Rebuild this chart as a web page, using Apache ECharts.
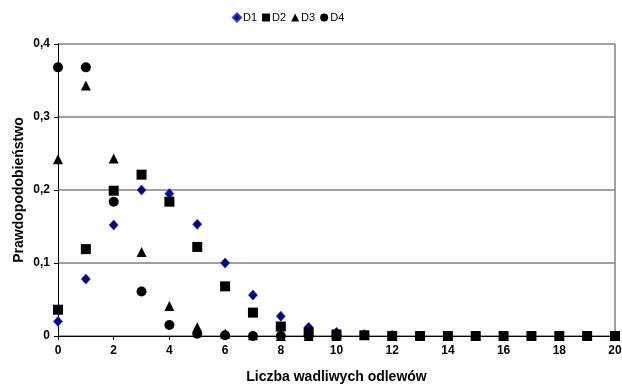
<!DOCTYPE html>
<html>
<head>
<meta charset="utf-8">
<script src="https://cdn.jsdelivr.net/npm/echarts@6/dist/echarts.min.js"></script>
<style>
  html, body { margin: 0; padding: 0; background: #fff; }
  #chart { width: 622px; height: 384px; }
</style>
</head>
<body>
<div id="chart"></div>
<script>
// liczba wadliwych odlewów (oś X)
const xs = [0, 1, 2, 3, 4, 5, 6, 7, 8, 9, 10, 11, 12, 13, 14, 15, 16, 17, 18, 19, 20];

// prawdopodobieństwa
const d1 = [0.020, 0.078, 0.152, 0.200, 0.195, 0.153, 0.100, 0.056, 0.027, 0.012, 0.005, 0.002, 0.001, 0, 0, 0, 0, 0, 0, 0, 0];
const d2 = [0.036, 0.119, 0.199, 0.221, 0.184, 0.122, 0.068, 0.032, 0.013, 0.005, 0.002, 0.001, 0, 0, 0, 0, 0, 0, 0, 0, 0];
const d3 = [0.242, 0.343, 0.243, 0.115, 0.041, 0.012, 0.003, 0.001, 0, 0, 0];
const d4 = [0.368, 0.368, 0.184, 0.061, 0.015, 0.003, 0.001, 0, 0, 0, 0];

const yLabels = ['0', '0,1', '0,2', '0,3', '0,4'];

const pairs = arr => arr.map((v, i) => [xs[i], v]);

const chart = echarts.init(document.getElementById('chart'));

const font = 'Liberation Sans, Arial, sans-serif';

chart.setOption({
  animation: false,
  textStyle: { fontFamily: font },
  legend: {
    top: 7,
    left: 227,
    itemGap: 5,
    itemWidth: 8,
    itemHeight: 8,
    textStyle: { fontSize: 11, color: '#000', fontFamily: font, padding: [0, 0, 0, -3] },
    data: ['D1', 'D2', 'D3', 'D4']
  },
  grid: { left: 58, right: 7, top: 44, bottom: 48, containLabel: false, outerBoundsMode: 'none' },
  xAxis: {
    type: 'value',
    min: 0, max: 20, interval: 2,
    name: 'Liczba wadliwych odlewów',
    nameLocation: 'middle',
    nameGap: 34,
    nameMoveOverlap: false,
    nameTextStyle: { fontWeight: 'bold', fontSize: 14, color: '#000' },
    axisLine: { onZero: false, lineStyle: { color: '#000', width: 1 } },
    axisTick: { show: true, length: 4, inside: false, lineStyle: { color: '#000' } },
    axisLabel: { fontWeight: 'bold', fontSize: 12, color: '#000', margin: 9 },
    splitLine: { show: false }
  },
  yAxis: {
    type: 'value',
    min: 0, max: 0.4, interval: 0.1,
    name: 'Prawdopodobieństwo',
    nameLocation: 'middle',
    nameGap: 32,
    nameMoveOverlap: false,
    nameTextStyle: { fontWeight: 'bold', fontSize: 14, color: '#000' },
    axisLine: { show: true, lineStyle: { color: '#000', width: 1 } },
    axisTick: { show: true, length: 4, lineStyle: { color: '#000' } },
    axisLabel: {
      fontWeight: 'bold', fontSize: 12, color: '#000', margin: 8,
      formatter: v => yLabels[Math.round(v * 10)]
    },
    splitLine: { show: true, lineStyle: { color: '#808080', width: 1.5 } }
  },
  series: [
    {
      name: 'D1', type: 'scatter', symbol: 'diamond', symbolSize: [9, 10],
      itemStyle: { color: '#000080', borderColor: '#3333cc', borderWidth: 0.8, opacity: 1 },
      data: pairs(d1), z: 2
    },
    {
      name: 'D2', type: 'scatter', symbol: 'rect', symbolSize: 10,
      itemStyle: { color: '#000', opacity: 1 }, data: pairs(d2), z: 3
    },
    {
      name: 'D3', type: 'scatter', symbol: 'triangle', symbolSize: [10, 10],
      itemStyle: { color: '#000', opacity: 1 }, data: pairs(d3), z: 4
    },
    {
      name: 'D4', type: 'scatter', symbol: 'circle', symbolSize: 10,
      itemStyle: { color: '#000', opacity: 1 }, data: pairs(d4), z: 5
    }
  ],
  graphic: [
    {
      type: 'line',
      shape: { x1: 615, y1: 44, x2: 615, y2: 336 },
      style: { stroke: '#808080', lineWidth: 1.5 },
      z: 1
    }
  ]
});
</script>
</body>
</html>
